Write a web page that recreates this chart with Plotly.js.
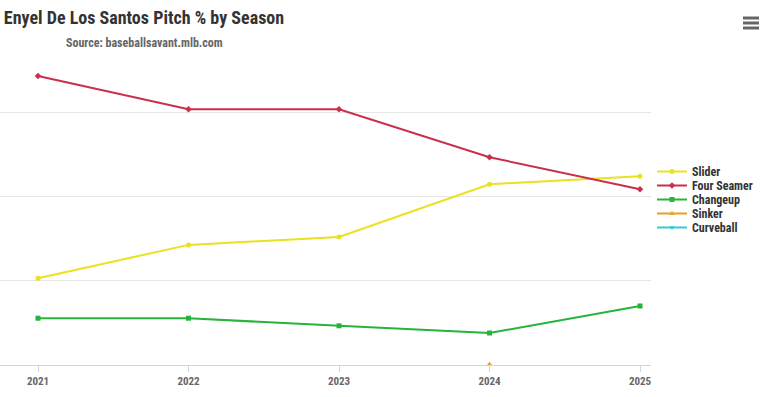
<!DOCTYPE html>
<html>
<head>
<meta charset="utf-8">
<script src="https://cdn.plot.ly/plotly-3.0.1.min.js"></script>
<style>html,body{margin:0;padding:0;background:#fff;}#chart{width:770px;height:397px;}</style>
</head>
<body>
<div id="chart"></div>
<script>
const seasons = [2021, 2022, 2023, 2024, 2025];
const slider = [20.6, 28.5, 30.4, 42.9, 44.8];
const fourSeamer = [68.6, 60.7, 60.7, 49.3, 41.7];
const changeup = [11.1, 11.1, 9.3, 7.6, 14.0];
const sinker = [null, null, null, 0.2, null];
const curveball = [null, null, null, null, null];

const seriesNames = ["Slider", "Four Seamer", "Changeup", "Sinker", "Curveball"];
const seriesData = [slider, fourSeamer, changeup, sinker, curveball];
const colors = ["#e8e21f", "#c9304a", "#25b53a", "#e8a020", "#33ccd6"];
const symbols = ["circle", "diamond", "square", "triangle-up", "triangle-down"];

const legendIds = ["legend", "legend2", "legend3", "legend4", "legend5"];

const traces = seriesNames.map((n, i) => ({
  type: "scatter",
  mode: "lines+markers",
  name: n,
  x: seasons,
  y: seriesData[i],
  legend: legendIds[i],
  line: {color: colors[i], width: 2},
  marker: {color: colors[i], size: 5, symbol: symbols[i]},
  connectgaps: false,
  hoverinfo: "x+y+name"
}));

const W = 770, H = 397, L = 0, R = 119, T = 70, B = 32;
const pw = W - L - R, ph = H - T - B;
function px(x) { return (x - L) / pw; }
function py(y) { return (H - B - y) / ph; }
const menuShapes = [18, 23, 28].map(y => ({
  type: "rect", xref: "paper", yref: "paper",
  x0: px(743), x1: px(759), y0: py(y - 1.5), y1: py(y + 1.5),
  fillcolor: "#666666", line: {width: 0}
}));

const condensed = "'Liberation Sans Narrow', 'Roboto Condensed', Roboto, sans-serif";

const layout = {
  width: W, height: H,
  margin: {l: L, r: R, t: T, b: B, autoexpand: false},
  paper_bgcolor: "#ffffff",
  plot_bgcolor: "#ffffff",
  font: {family: "Roboto, 'Liberation Sans', sans-serif", color: "#666666"},
  title: {
    text: "Enyel De Los Santos Pitch % by Season",
    font: {family: condensed, size: 18, color: "#333333", weight: "bold"},
    x: 0.005, xanchor: "left", xref: "container",
    y: 0.955, yanchor: "middle", yref: "container"
  },
  annotations: [{
    text: "Source: baseballsavant.mlb.com",
    xref: "paper", yref: "paper",
    x: px(64), y: py(43), xanchor: "left", yanchor: "middle",
    showarrow: false,
    font: {family: condensed, size: 12, color: "#666666", weight: "bold"}
  }],
  shapes: menuShapes,
  xaxis: {
    range: [2020.7475, 2025.073],
    tickvals: seasons,
    ticktext: seasons.map(String),
    showgrid: false,
    zeroline: false,
    showline: true,
    linecolor: "#ccd6eb",
    linewidth: 1,
    ticks: "outside",
    ticklen: 6,
    tickcolor: "#ccd6eb",
    tickfont: {family: condensed, size: 11, color: "#666666", weight: "bold"},
    fixedrange: true
  },
  yaxis: {
    range: [0, 70],
    dtick: 20,
    tick0: 0,
    showgrid: true,
    gridcolor: "#e6e6e6",
    gridwidth: 1,
    zeroline: false,
    showticklabels: false,
    showline: false,
    fixedrange: true
  },
  showlegend: true,
  hovermode: "closest"
};

legendIds.forEach((id, i) => {
  layout[id] = {
    x: px(652), y: py(157 + 14 * i), xanchor: "left", yanchor: "top",
    xref: "paper", yref: "paper",
    font: {family: condensed, size: 12, color: "#333333", weight: "bold"},
    itemwidth: 30,
    bgcolor: "rgba(0,0,0,0)",
    borderwidth: 0
  };
});

Plotly.newPlot("chart", traces, layout, {displayModeBar: false, responsive: false});
</script>
</body>
</html>
